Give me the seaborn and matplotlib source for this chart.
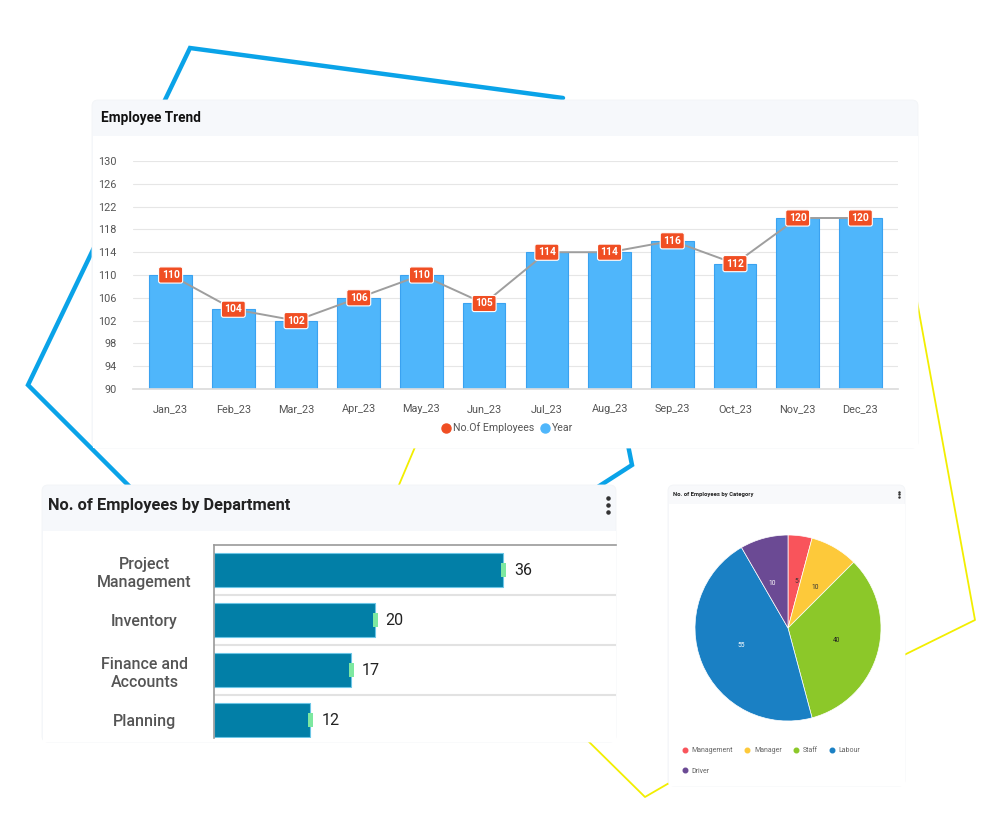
import numpy as np
import pandas as pd
import matplotlib
matplotlib.use("Agg")
import matplotlib.pyplot as plt
import seaborn as sns
from matplotlib.patches import FancyBboxPatch, Rectangle
from matplotlib.lines import Line2D

# ---------------- data ----------------
months = ["Jan_23", "Feb_23", "Mar_23", "Apr_23", "May_23", "Jun_23",
          "Jul_23", "Aug_23", "Sep_23", "Oct_23", "Nov_23", "Dec_23"]
employees = [110, 104, 102, 106, 110, 105, 114, 114, 116, 112, 120, 120]
trend_yticks = [90, 94, 98, 102, 106, 110, 114, 118, 122, 126, 130]

departments = ["Project\nManagement", "Inventory", "Finance and\nAccounts", "Planning"]
dept_counts = [36, 20, 17, 12]

categories = ["Management", "Manager", "Staff", "Labour", "Driver"]
category_counts = [5, 10, 40, 55, 10]
category_colors = ["#f9545b", "#fdc93a", "#8cc829", "#1a80c4", "#6b4a94"]
category_label_colors = ["#333333", "#333333", "#222222", "white", "white"]

# ---------------- setup ----------------
sns.set_theme(style="white")
plt.rcParams["font.family"] = ["Roboto", "DejaVu Sans"]

W, H = 1000, 813
fig = plt.figure(figsize=(10, 8.13), dpi=100)
fig.patch.set_facecolor("white")

bg = fig.add_axes([0, 0, 1, 1], zorder=0)
bg.set_xlim(0, W)
bg.set_ylim(H, 0)
bg.axis("off")


def ax_px(l, t, r, b, z=1):
    a = fig.add_axes([l / W, 1 - b / H, (r - l) / W, (b - t) / H], zorder=z)
    a.set_facecolor("none")
    return a


# decorative lines (behind cards)
blue = "#0aa3e8"
yellow = "#f2ee00"
bg.plot([563, 190, 28, 140], [98, 48, 385, 497], color=blue, lw=3.2, zorder=1,
        solid_joinstyle="miter")
bg.plot([590, 632, 627], [492, 465, 440], color=blue, lw=3.2, zorder=1,
        solid_joinstyle="miter")
bg.plot([418, 396], [440, 492], color=yellow, lw=1.3, zorder=1)
bg.plot([915, 975, 900], [290, 620, 657], color=yellow, lw=1.3, zorder=1)
bg.plot([580, 645, 695], [733, 797, 768], color=yellow, lw=1.3, zorder=1)


def card(x0, y0, x1, y1, title_h, tcol="#f6f8fb"):
    bg.add_patch(FancyBboxPatch((x0, y0), x1 - x0, y1 - y0,
                                boxstyle="round,pad=0,rounding_size=6",
                                fc=tcol, ec="#f2f4f7", lw=0.6, zorder=2))
    bg.add_patch(Rectangle((x0 + 0.5, y0 + title_h), x1 - x0 - 1, y1 - y0 - title_h,
                           fc="white", ec="none", zorder=2.1))


card(92, 100, 918, 448, 36)
card(42, 485, 616, 742, 46)
card(668, 485, 905, 786, 19, tcol="#f8f9fb")

# titles
bg.text(101, 118, "Employee Trend", fontsize=9.8, fontweight="bold",
        color="#111111", va="center", ha="left", zorder=3)
bg.text(48, 505, "No. of Employees by Department", fontsize=11.8, fontweight="bold",
        color="#222222", va="center", ha="left", zorder=3)
bg.scatter([608, 608, 608], [498, 505, 512], s=5, color="#333333", zorder=3)
bg.text(673, 494, "No. of Employees by Category", fontsize=4.2, fontweight="bold",
        color="#222222", va="center", ha="left", zorder=3)
bg.scatter([899, 899, 899], [491.5, 494, 496.5], s=0.6, color="#333333", zorder=3)

# ---------------- Employee Trend ----------------
ax1 = ax_px(133, 161, 898, 389)
df_trend = pd.DataFrame({"month": months, "employees": employees})
sns.barplot(data=df_trend, x="month", y="employees", color="#4fb6fb",
            saturation=1, width=0.68, edgecolor="#3aa2f0", linewidth=0.8,
            ax=ax1, zorder=2)
sns.lineplot(x=np.arange(len(months)), y=employees, color="#9e9e9e", lw=1.4,
             ax=ax1, zorder=3)
for i, v in enumerate(employees):
    ax1.text(i, v, str(v), ha="center", va="center", color="white",
             fontsize=7.4, fontweight="bold", zorder=5,
             bbox=dict(boxstyle="round,pad=0.3,rounding_size=0.2",
                       fc="#f04e23", ec="white", lw=0.8))
ax1.set_ylim(90, 130)
ax1.set_yticks(trend_yticks)
ax1.set_xlim(-0.6, len(months) - 0.4)
ax1.set_xticks(range(len(months)))
ax1.set_xticklabels(months)
ax1.set_xlabel("")
ax1.set_ylabel("")
ax1.yaxis.grid(True, color="#e6e6e6", lw=0.8, zorder=0)
ax1.set_axisbelow(True)
for s in ["top", "right", "left"]:
    ax1.spines[s].set_visible(False)
ax1.spines["bottom"].set_color("#dcdcdc")
ax1.tick_params(axis="both", labelsize=7.8, colors="#555555", length=0)
ax1.tick_params(axis="x", pad=11)
ax1.tick_params(axis="y", pad=12)

leg_handles = [Line2D([], [], marker="o", ls="", color="#f04e23", markersize=6.5,
                      label="No.Of Employees"),
               Line2D([], [], marker="o", ls="", color="#4fb6fb", markersize=6.5,
                      label="Year")]
fig.legend(handles=leg_handles, loc="center", ncol=2, frameon=False,
           bbox_to_anchor=(507 / W, 1 - 428 / H), bbox_transform=fig.transFigure,
           fontsize=7.6, handletextpad=0.15, columnspacing=0.6,
           handlelength=1.0, labelcolor="#555555")

# ---------------- Department bars ----------------
ax2 = ax_px(214, 545, 616, 738)
df_dept = pd.DataFrame({"dept": departments, "count": dept_counts})
sns.barplot(data=df_dept, x="count", y="dept", orient="h", color="#027fa7",
            saturation=1, width=0.68, edgecolor="#6cc6e6", linewidth=0.8,
            ax=ax2, zorder=2)
ax2.set_xlim(0, 50)
ax2.set_ylim(3.36, -0.5)
for yb in [0.5, 1.5, 2.5]:
    ax2.axhline(yb, color="#e2e2e2", lw=1.5, zorder=1)
rect = [(-0.18, -0.5), (0.18, -0.5), (0.18, 0.5), (-0.18, 0.5)]
ax2.scatter(dept_counts, range(len(dept_counts)), marker=rect, s=100,
            color="#7de8a0", zorder=4, linewidths=0)
for i, v in enumerate(dept_counts):
    ax2.text(v + 1.35, i, str(v), ha="left", va="center", fontsize=11.5,
             color="#222222", zorder=5)
ax2.set_xticks([])
ax2.set_xlabel("")
ax2.set_ylabel("")
ax2.set_yticks(range(len(departments)))
ax2.set_yticklabels(departments, ha="center", multialignment="center",
                    fontweight="medium", color="#555555", fontsize=11.5,
                    linespacing=1.3)
ax2.tick_params(axis="y", length=0, pad=50)
for s in ["right", "bottom"]:
    ax2.spines[s].set_visible(False)
for s in ["top", "left"]:
    ax2.spines[s].set_color("#9a9a9a")
    ax2.spines[s].set_linewidth(1.2)

# ---------------- Category pie ----------------
ax3 = ax_px(695, 535, 881, 721)
wedges, texts = ax3.pie(category_counts, colors=category_colors, startangle=90,
                        counterclock=False,
                        labels=[str(v) for v in category_counts],
                        labeldistance=0.5, textprops=dict(fontsize=4.8),
                        wedgeprops=dict(linewidth=0.5, edgecolor="white"))
for t, c in zip(texts, category_label_colors):
    t.set_color(c)
ax3.set_xlim(-1.0, 1.0)
ax3.set_ylim(-1.0, 1.0)

order = [0, 4, 1, 2, 3]  # column-major fill to get row layout
pie_handles = [Line2D([], [], marker="o", ls="", color=category_colors[k],
                      markersize=3.3, label=categories[k]) for k in order]
fig.legend(handles=pie_handles, loc="upper left", ncol=4, frameon=False,
           bbox_to_anchor=(682 / W, 1 - 747 / H), bbox_transform=fig.transFigure,
           fontsize=5, handlelength=0.8, handletextpad=0.6, columnspacing=1.6,
           labelspacing=2.0, labelcolor="#666666", borderaxespad=0, borderpad=0)

fig.savefig("out.png", dpi=100, facecolor="white")
